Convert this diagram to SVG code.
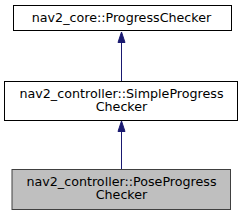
<svg xmlns="http://www.w3.org/2000/svg" width="243" height="216" viewBox="0 0 243 216">
<defs>
<style>
.box{fill:#ffffff;stroke:#000000;stroke-width:1}
.cur{fill:#bfbfbf;stroke:#404040;stroke-width:1}
text{font-family:"DejaVu Sans",sans-serif;font-size:12.7px;text-anchor:middle;fill:#000000}
.edge{stroke:#191970;stroke-width:1;fill:none}
.head{fill:#191970;stroke:#191970;stroke-width:1}
</style>
</defs>
<rect width="243" height="216" fill="#ffffff"/>
<g id="connectors">
<path class="edge" d="M121.5,81 L121.5,42.5"/>
<polygon class="head" points="121.5,32 118,42.5 125,42.5"/>
<path class="edge" d="M121.5,169 L121.5,131.5"/>
<polygon class="head" points="121.5,121 118,131.5 125,131.5"/>
</g>
<g id="node1">
<rect class="box" x="13.5" y="5.5" width="218" height="25"/>
<text x="121.5" y="22.3">nav2_core::ProgressChecker</text>
</g>
<g id="node2">
<rect class="box" x="4.5" y="81.5" width="233" height="39"/>
<text x="121.5" y="97.8">nav2_controller::SimpleProgress</text>
<text x="121.5" y="110.6">Checker</text>
</g>
<g id="node3">
<rect class="cur" x="12" y="169.5" width="218.5" height="40"/>
<text x="121.5" y="186.2">nav2_controller::PoseProgress</text>
<text x="121.5" y="199">Checker</text>
</g>
</svg>
